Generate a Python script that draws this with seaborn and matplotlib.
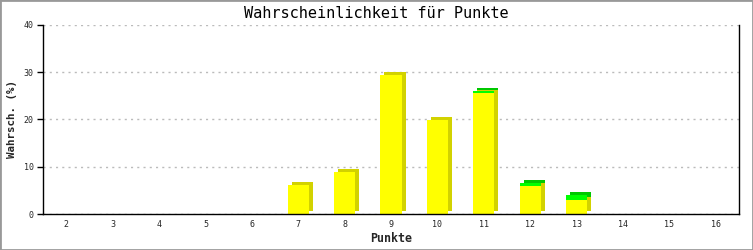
import matplotlib
matplotlib.use("Agg")
import matplotlib.pyplot as plt
import matplotlib.transforms as mtransforms
import seaborn as sns
import pandas as pd

punkte = ["2", "3", "4", "5", "6", "7", "8", "9", "10", "11", "12", "13", "14", "15", "16"]
gelb = [0, 0, 0, 0, 0, 6.2, 8.8, 29.4, 19.9, 25.7, 6.0, 3.0, 0, 0, 0]
gruen = [0, 0, 0, 0, 0, 0, 0, 0, 0, 0.4, 0.5, 1.0, 0, 0, 0]
y_ticks = [0, 10, 20, 30, 40]

total = [a + b for a, b in zip(gelb, gruen)]
df = pd.DataFrame({"Punkte": punkte, "gelb": gelb, "total": total})

sns.set_theme(style="white")
plt.rcParams["font.family"] = ["DejaVu Sans Mono", "DejaVu Sans"]

fig = plt.figure(figsize=(7.53, 2.5), dpi=100)
ax = fig.add_axes([43 / 753, 36 / 250, 696 / 753, 189 / 250])

shadow = mtransforms.offset_copy(ax.transData, fig=fig, x=4, y=3, units="dots")

def layer(col, color, off):
    n0 = len(ax.patches)
    sns.barplot(data=df, x="Punkte", y=col, order=punkte, color=color,
                saturation=1, width=0.46, linewidth=0, ax=ax, errorbar=None)
    if off:
        for p in ax.patches[n0:]:
            p.set_transform(shadow)

layer("total", "#00c800", True)
layer("gelb", "#d2d200", True)
layer("total", "#00ff00", False)
layer("gelb", "#ffff00", False)

ax.set_xlim(-0.5, len(punkte) - 0.5)
ax.set_ylim(0, 40)
ax.set_yticks(y_ticks)
ax.set_yticklabels([str(v) for v in y_ticks])
ax.yaxis.grid(True, color="#bbbbbb", linestyle=(0, (1.5, 3)), linewidth=1)
ax.set_axisbelow(True)
for s in ["left", "bottom", "right"]:
    ax.spines[s].set_visible(True)
    ax.spines[s].set_color("black")
    ax.spines[s].set_linewidth(1)
ax.spines["top"].set_visible(False)
ax.tick_params(axis="y", which="both", left=True, length=4.3, width=1, color="black",
               labelsize=6, pad=2.5)
ax.tick_params(axis="x", bottom=False, length=0, labelsize=6, pad=4)
ax.set_xlabel("Punkte", fontsize=8.4, fontweight="bold")
ax.set_ylabel("Wahrsch. (%)", fontsize=7.8, fontweight="bold")
ax.xaxis.set_label_coords(0.5, (214 - 239) / 189)
ax.xaxis.label.set_va("center")
ax.yaxis.set_label_coords((12 - 43) / 696, 0.5)
ax.yaxis.label.set_va("center")
fig.text(0.5, 1 - 14 / 250, "Wahrscheinlichkeit für Punkte", ha="center", va="center",
         fontsize=11, color="black")

fig.patches.append(plt.Rectangle((0, 0), 1, 1, transform=fig.transFigure, fill=False,
                                 edgecolor="#999999", linewidth=2))
fig.savefig("out.png", dpi=100, facecolor="white")
